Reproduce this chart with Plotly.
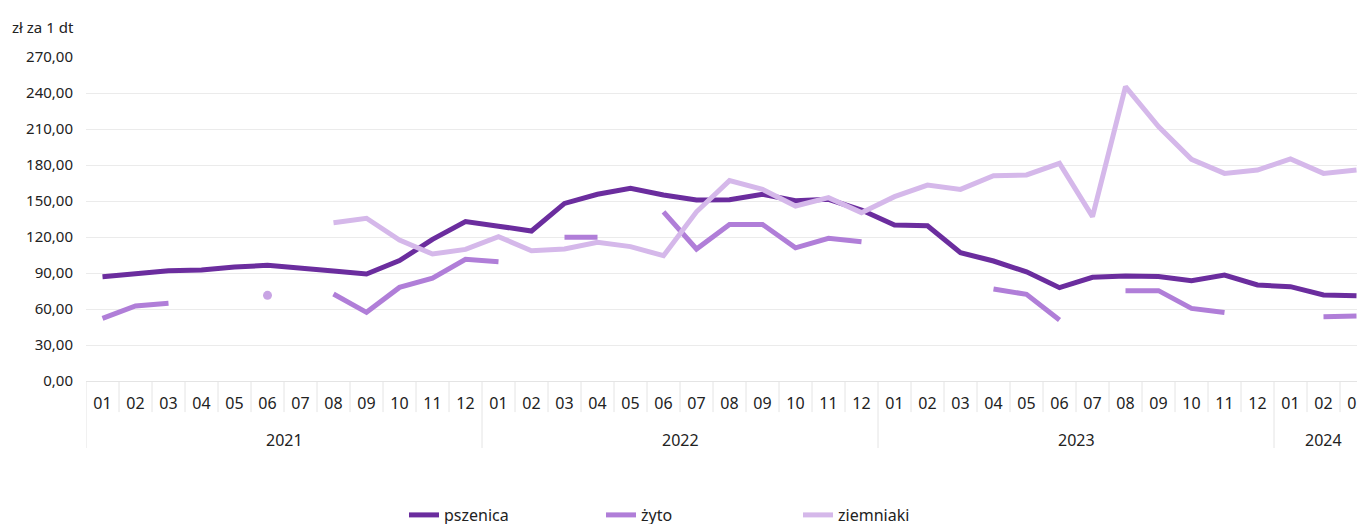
import plotly.graph_objects as go

# months 2021-01 .. 2024-03
years = ["2021"] * 12 + ["2022"] * 12 + ["2023"] * 12 + ["2024"] * 3
months = [f"{m:02d}" for m in range(1, 13)] * 3 + ["01", "02", "03"]

pszenica = [
    86.9, 89.6, 91.9, 92.5, 95.0, 96.4, 94.4, 91.7, 89.2, 100.3, 118.0, 132.8,
    129.0, 125.0, 148.0, 155.6, 160.6, 155.0, 150.8, 151.0, 155.6, 150.3, 151.4, 142.5,
    130.0, 129.4, 107.0, 100.0, 91.0, 77.8, 86.4, 87.5, 87.0, 83.6, 88.3, 80.0,
    78.6, 71.7, 71.1,
]
zyto = [
    52.2, 62.5, 64.7, None, None, 71.4, None, 72.5, 57.2, 78.0, 85.6, 101.4,
    99.4, None, 119.7, 119.7, None, 141.0, 110.0, 130.5, 130.5, 111.0, 118.9, 116.0,
    None, None, None, 76.7, 72.2, 50.8, None, 75.3, 75.3, 60.5, 57.0, None,
    None, 53.6, 54.2,
]
ziemniaki = [
    None, None, None, None, None, None, None, 131.9, 135.6, 117.5, 105.8, 109.7,
    120.3, 108.6, 110.0, 115.6, 112.0, 104.4, 141.0, 167.0, 159.7, 145.8, 152.8, 140.3,
    153.6, 163.3, 159.7, 171.0, 171.7, 181.4, 137.0, 245.3, 212.0, 184.7, 173.0, 175.8,
    185.0, 173.0, 175.8,
]

series = [
    ("pszenica", pszenica, "#6b2d9e"),
    ("żyto", zyto, "#b07ed8"),
    ("ziemniaki", ziemniaki, "#d5b8ea"),
]

GRID = "#e4e4e4"
TXT = "#222222"
FONT = "Noto Sans"

cats = [f"{y}-{m}" for y, m in zip(years, months)]


def isolated_sizes(vals):
    # show a dot where a value has no neighbours (a line cannot be drawn)
    out = []
    for i, v in enumerate(vals):
        prev_ok = i > 0 and vals[i - 1] is not None
        next_ok = i < len(vals) - 1 and vals[i + 1] is not None
        out.append(9 if v is not None and not prev_ok and not next_ok else 0)
    return out


fig = go.Figure()
for name, vals, color in series:
    fig.add_trace(go.Scatter(
        x=cats,
        y=vals,
        name=name,
        mode="lines+markers",
        line=dict(color=color, width=5),
        marker=dict(size=isolated_sizes(vals), color=color, line=dict(width=0)),
        connectgaps=False,
    ))

# month separators and year dividers / labels under the axis
shapes = []
annotations = []
for i in range(len(cats)):
    new_year = i == 0 or years[i] != years[i - 1]
    shapes.append(dict(type="line", xref="x", yref="paper", x0=i - 0.5, x1=i - 0.5,
                       y0=0, y1=-0.207 if new_year else -0.096,
                       line=dict(color=GRID, width=1)))

start = 0
for i in range(1, len(cats) + 1):
    if i == len(cats) or years[i] != years[start]:
        annotations.append(dict(text=years[start], xref="x", yref="paper",
                                x=(start + i - 1) / 2, y=-0.182, yanchor="middle",
                                showarrow=False, font=dict(size=16, color=TXT, family=FONT)))
        start = i

annotations.append(dict(text="zł za 1 dt", xref="paper", yref="paper", x=-0.059, y=1.093,
                        xanchor="left", yanchor="middle", showarrow=False,
                        font=dict(size=15, color=TXT, family=FONT)))

# page body adds an 8px offset; the original chart runs past the right edge
fig.update_layout(
    width=1365, height=524,
    margin=dict(l=78, r=0, t=49, b=151),
    paper_bgcolor="white", plot_bgcolor="white",
    font=dict(family=FONT, size=15, color=TXT),
    separators=", ",
    showlegend=True,
    legend=dict(orientation="h", x=0.5066, xanchor="center", xref="container",
                y=0, yanchor="bottom", yref="container",
                font=dict(size=16), entrywidth=152),
    shapes=shapes,
    annotations=annotations,
)
fig.update_xaxes(
    type="category", range=[-0.5, len(cats) - 0.5], automargin=False,
    tickmode="array", tickvals=cats, ticktext=months,
    showline=True, linecolor=GRID, linewidth=1,
    ticks="", ticklabelstandoff=8,
    showgrid=False,
    tickfont=dict(size=16),
)
fig.update_yaxes(
    range=[0, 270], dtick=30, tickformat=".2f", automargin=False,
    showgrid=True, gridcolor="#ebebeb", gridwidth=1,
    zeroline=False, ticks="", ticklabelstandoff=12,
)

fig.write_html("out.html")
